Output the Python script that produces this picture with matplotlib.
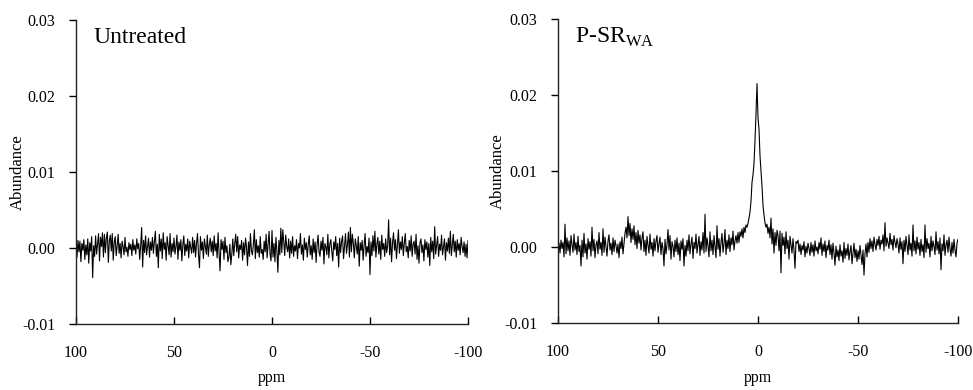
import numpy as np
import matplotlib
matplotlib.use("Agg")
import matplotlib.pyplot as plt

plt.rcParams['font.family'] = ['Liberation Serif', 'DejaVu Serif']
plt.rcParams['mathtext.fontset'] = 'custom'
plt.rcParams['mathtext.rm'] = 'Liberation Serif'
plt.rcParams['axes.unicode_minus'] = False

# chemical shift axis (ppm), 0.5 ppm spacing from 100 to -100
ppm_start, ppm_stop, n_points = 100, -100, 401

# abundance values in units of 0.001
untreated_milli = [
    0.8, -1.2, 1.0, -0.5, 0.9, -1.8, 0.6, -0.3, 1.1, -1.5, 0.4, -0.9, 1.2, -2.0, 0.7, -0.4, 1.5, -3.9, 0.3, -1.1,
    1.6, -0.8, 0.5, 1.9, -1.7, 1.4, 0.2, 2.0, -1.2, 1.8, -0.6, 1.3, 2.1, -1.9, 0.9, 1.7, -0.4, 1.9, -1.6, 0.8,
    1.5, -1.0, 0.3, 1.8, -0.7, 0.6, -1.3, 0.9, 0.2, -0.9, 1.4, -0.5, 0.1, -1.1, 0.7, -0.2, 0.5, -1.0, 1.1, -0.3,
    0.4, -0.8, 1.2, -0.1, 0.6, -1.5, 0.3, 2.7, -2.5, 1.0, -0.6, 1.6, -0.9, 0.2, 1.3, -1.2, 0.8, -0.3, 1.4, -0.7,
    0.9, 2.2, -1.1, 0.5, -2.6, 1.8, -0.4, 1.2, -1.4, 2.0, -0.2, 0.7, -1.6, 1.5, 0.3, -0.9, 1.9, -1.2, 0.6, -0.5,
    1.3, -0.8, 0.2, 1.7, -1.5, 0.8, -0.3, 1.1, -1.7, 0.4, 1.6, -1.0, 0.5, -0.4, 1.2, -1.3, 0.9, 0.1, -0.7, 1.4,
    -0.6, 1.0, -1.2, 0.7, 1.9, -0.9, -2.6, 1.5, -0.3, 0.8, -1.4, 1.2, 0.2, -0.8, 1.7, -1.1, 0.4, 1.3, -0.5, 0.9,
    -1.0, 1.6, -0.4, 0.6, -1.3, 2.0, -0.7, -3.0, 1.1, -0.2, 0.9, -1.5, 1.4, -0.6, 0.3, -1.8, -1.2, 0.5, -2.2, -0.8,
    1.2, -1.0, 0.6, 1.8, -0.5, 1.5, -1.3, 0.4, -0.2, 1.0, -1.6, 0.7, -0.9, 1.3, 0.1, -2.3, 0.8, -1.1, 1.9, -0.4,
    -0.9, 0.5, 2.4, -1.4, 1.1, -0.6, 0.3, -1.2, 1.5, -0.7, -0.2, -1.5, 0.9, -0.5, 1.8, -1.3, 0.4, 2.2, -0.8, -1.7,
    2.3, -1.2, 0.6, -1.8, 1.4, -0.4, -3.2, 1.0, -0.9, 2.6, -0.6, 2.4, 0.8, -1.0, 1.7, 0.2, -0.5, 1.2, -1.3, 0.9,
    -0.7, 1.5, -1.1, 0.3, -0.4, 1.1, -1.4, 0.6, 0.0, 1.9, -0.8, 0.4, -1.6, 1.3, -0.2, 0.7, -1.2, 0.5, 1.6, -0.9,
    0.3, -1.5, 1.2, -0.6, 0.8, -1.9, 0.4, 1.7, -0.5, -1.1, 0.9, -0.3, 1.4, -2.1, 0.6, 0.1, -0.9, 1.8, -1.3, 0.5,
    1.1, -0.4, -1.7, 0.8, -0.2, 1.5, -1.0, 0.6, -2.5, 1.3, -0.6, 0.9, 1.6, -1.4, 0.2, 1.9, -0.7, 0.4, 2.1, -1.2,
    2.7, -0.5, 1.8, 0.6, -1.3, 1.2, 0.3, -0.8, 1.5, -2.4, 0.7, -0.3, 1.0, -1.6, 0.4, 1.9, -1.1, 0.2, -0.6, 1.3,
    -3.5, 0.8, -1.0, 1.6, -0.4, 2.2, -1.2, 0.5, 1.4, -0.8, 0.9, -1.5, 1.7, -0.2, 0.6, -1.1, 1.2, -0.6, 0.3, 3.7,
    -0.9, 1.3, -1.8, 0.7, 2.0, -0.3, 1.1, -1.4, 0.4, 2.4, -0.7, 0.8, -0.2, 1.5, -1.0, 0.6, 1.9, -0.5, 0.2, -1.3,
    1.0, -0.4, 1.6, -1.1, 0.5, 0.9, -0.8, 1.8, -1.5, 0.3, -2.0, 0.7, 1.2, -0.6, 0.4, -1.7, 1.1, -0.2, 0.8, -1.2,
    0.6, -2.3, 1.4, -0.5, 0.9, -1.4, 2.8, -0.8, 0.3, 1.5, -1.1, 0.5, -0.3, 1.7, -0.9, 0.2, 1.2, -1.6, 0.7, -0.4,
    1.3, -0.7, 2.2, -1.0, 0.4, 1.8, -0.5, 0.9, -1.2, 1.1, -0.3, 0.6, -0.9, 1.4, 0.2, -0.6, 0.8, -1.1, 0.5, -1.3,
    1.0,
]

psr_milli = [
    -0.4, 0.5, -0.8, 0.9, -0.2, 0.6, -1.3, 3.0, -0.9, 1.2, -0.5, 0.8, -1.1, 1.5, 0.3, -0.7, 1.7, -0.4, 0.6, -1.0,
    1.4, -0.6, 0.2, -2.5, 0.9, -1.3, 1.8, -0.8, 0.4, -1.6, 1.1, -0.3, 0.7, -1.2, 2.6, -0.5, 1.0, -1.4, 0.3, 0.8,
    -0.9, 1.9, -0.3, 0.6, -1.1, 2.4, -0.7, 1.3, 0.1, -1.2, 0.8, 1.6, -0.4, 0.5, -1.0, 1.2, -0.6, 0.9, 0.2, -0.8,
    0.4, -1.4, 0.7, -0.2, 1.3, -0.9, 0.5, 1.8, 2.6, 1.2, 4.0, 1.5, 3.1, 0.6, 2.4, 1.0, 2.8, 0.3, 1.9, -0.2,
    2.2, 0.5, 1.6, -0.4, 1.2, 2.0, -0.6, 0.9, -1.1, 1.4, 0.2, -0.8, 1.7, -0.3, 0.6, -1.2, 1.1, -0.5, 0.8, 1.5,
    -0.7, 0.4, 1.3, -1.0, 0.6, -0.2, -2.5, 1.0, -0.9, 0.3, 2.3, -0.4, 1.5, -1.6, 0.7, 0.1, -1.3, 0.9, -0.6, 1.2,
    -1.0, 0.5, -1.8, 0.8, -0.3, 1.1, -2.5, 0.2, -1.2, 0.9, -0.5, 1.6, -0.9, 0.4, 1.3, -1.5, 0.6, -0.2, 1.7, -0.8,
    0.3, 1.4, -1.1, 0.7, -0.4, 1.9, -0.8, 4.3, -0.6, 1.2, 0.2, -1.3, 2.0, -0.5, 0.9, -1.0, 1.5, 0.1, -1.4, 2.8,
    -0.3, 1.1, -1.2, 0.6, 1.8, -0.7, 0.4, 2.3, -1.0, 0.9, -0.2, 1.6, -0.6, 1.2, 0.3, 2.1, -0.4, 0.8, 1.5, 0.5,
    1.9, 0.6, 2.0, 1.4, 2.4, 1.2, 2.6, 1.9, 2.9, 2.6, 3.1, 3.8, 4.6, 6.0, 8.5, 9.5, 11.0, 14.0, 17.5, 21.5,
    17.0, 15.5, 12.0, 10.0, 8.0, 5.5, 4.2, 3.2, 2.6, 3.0, 1.8, 2.6, 1.2, 3.8, 0.4, 2.4, -0.8, 1.9, 0.2, 2.2,
    1.5, -0.5, 2.1, -3.4, 1.8, 0.2, 1.3, -0.9, 2.0, -0.2, 0.9, -1.6, 1.4, 0.3, -0.8, 1.1, -0.4, -2.8, 0.7, 0.5,
    0.9, -0.6, 0.4, -1.0, 0.2, -0.4, 0.7, -1.3, 0.1, -0.8, 0.5, -0.2, -1.1, 0.6, -0.7, 0.3, -1.2, 0.8, -0.5, 0.0,
    -0.9, 0.6, -0.3, 1.2, -1.1, 0.4, -0.6, 0.8, -1.4, 0.2, -0.4, 0.9, -1.0, 0.3, -1.6, 0.5, -0.8, -2.4, 0.1, -1.3,
    -0.4, -1.8, 0.3, -1.2, -0.5, -2.0, 0.6, -1.5, -0.2, -1.1, 0.4, -1.7, -0.6, 0.2, -2.2, -0.9, 0.5, -1.4, -0.3, -1.9,
    -0.5, -1.6, 0.2, -1.0, -2.3, -0.4, -3.7, -0.9, 0.4, -1.3, 0.6, -0.7, 1.1, -0.2, 0.8, -0.6, 1.3, 0.3, -0.4, 1.0,
    0.2, 1.4, -0.3, 0.9, 0.4, 1.6, -0.5, 3.2, 0.1, 1.2, 0.5, -0.2, 1.8, 0.3, 1.0, -0.4, 1.5, 0.6, -0.1, 1.1,
    0.4, -0.8, 1.2, -0.3, 0.7, -2.2, 0.9, -0.6, 1.4, 0.2, -1.0, 1.6, -0.4, 0.5, -1.2, 2.9, -0.5, 0.8, -0.9, 1.3,
    -0.3, 0.6, -1.1, 1.0, -0.6, 0.3, -1.4, 2.9, -0.7, 1.1, -0.2, 0.5, -1.3, 1.4, -0.5, 0.8, 0.1, -1.0, 2.0, -0.4,
    0.7, -0.9, 1.2, -3.0, 0.4, -0.5, 1.6, -1.1, 0.3, 0.9, -0.7, 1.3, -0.2, -1.2, 0.6, -0.8, 1.0, -0.4, -1.3, 0.5,
    1.0,
]

panel_titles = ["Untreated", "P-SR$_{\\mathrm{WA}}$"]
x_ticks = [100, 50, 0, -50, -100]
y_ticks = [-0.01, 0.00, 0.01, 0.02, 0.03]
x_label = "ppm"
y_label = "Abundance"

ppm = np.linspace(ppm_start, ppm_stop, n_points)
series = [np.array(untreated_milli) * 1e-3, np.array(psr_milli) * 1e-3]

W, H = 973, 390
fig = plt.figure(figsize=(W / 100, H / 100), dpi=100)

# axes rectangles in pixels: (left, top, right, bottom)
rects = [(76, 20, 468, 324), (558, 19, 958, 323)]
ylabel_x = [18, 498]
title_x = [93, 575]

for i, (rect, y, title) in enumerate(zip(rects, series, panel_titles)):
    l, t, r, b = rect
    ax = fig.add_axes([l / W, 1 - b / H, (r - l) / W, (b - t) / H])
    ax.plot(ppm, y, color='black', lw=0.8)
    ax.set_xlim(100, -100)
    ax.set_ylim(-0.01, 0.03)
    ax.set_xticks(x_ticks)
    ax.set_xticklabels([str(v) for v in x_ticks])
    ax.set_yticks(y_ticks)
    ax.set_yticklabels(["%.2f" % v for v in y_ticks])
    for s in ['top', 'right']:
        ax.spines[s].set_visible(False)
    for s in ['left', 'bottom']:
        ax.spines[s].set_linewidth(1.0)
        ax.spines[s].set_color('#222222')
    ax.tick_params(axis='x', direction='in', length=5, width=1, pad=15, labelsize=11.5)
    ax.tick_params(axis='y', direction='out', length=5, width=1, pad=10, labelsize=11.5)
    ax.set_xlabel(x_label, fontsize=11.5, va='center')
    ax.set_ylabel(y_label, fontsize=12, va='center')
    ax.xaxis.set_label_coords(0.5, -(378 - b) / (b - t))
    ax.yaxis.set_label_coords((ylabel_x[i] - l) / (r - l), 0.5)
    ax.text((title_x[i] - l) / (r - l), (b - 43) / (b - t), title,
            transform=ax.transAxes, fontsize=17, va='baseline', ha='left')

fig.savefig("out.png", dpi=100)
